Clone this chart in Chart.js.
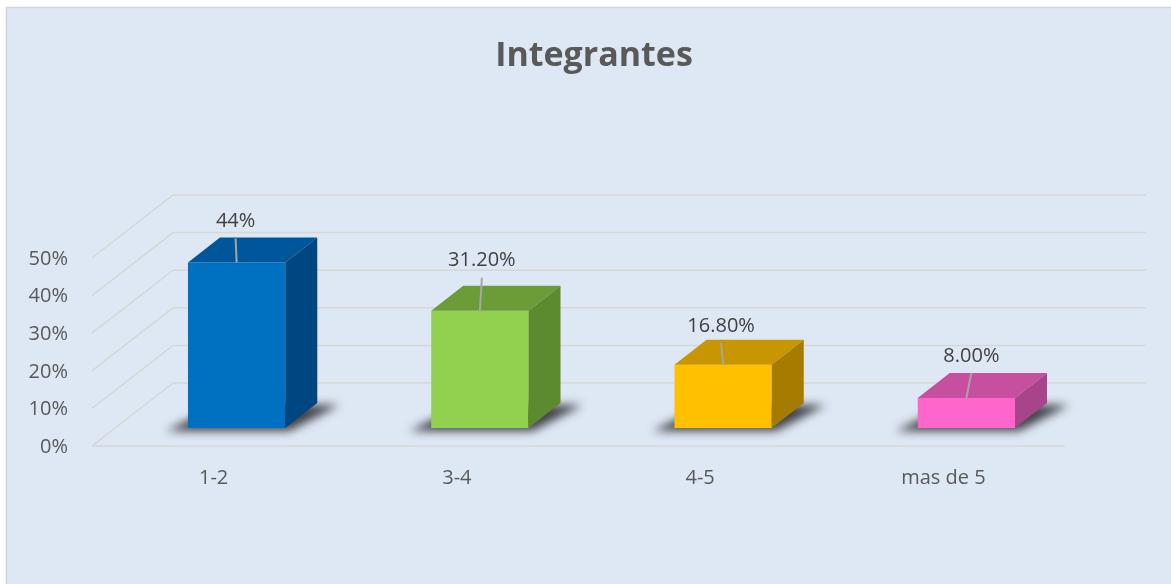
<!DOCTYPE html>
<html>
<head>
<meta charset="utf-8">
<script src="https://cdn.jsdelivr.net/npm/chart.js@4.4.1/dist/chart.umd.min.js"></script>
<style>
  html, body { margin: 0; padding: 0; background: #ffffff; }
  #wrap { position: absolute; left: 0; top: 0; width: 1171px; height: 584px; }
</style>
</head>
<body>
<div id="wrap"><canvas id="c" width="1171" height="584"></canvas></div>
<script>
// ---- data ----
const categories = ['1-2', '3-4', '4-5', 'mas de 5'];
const values = [44, 31.2, 16.8, 8.0];
const valueLabels = ['44%', '31.20%', '16.80%', '8.00%'];
const yTickValues = [0, 10, 20, 30, 40, 50];
const titleText = 'Integrantes';

// ---- styling ----
const frontColors = ['#0070C0', '#92D050', '#FFC000', '#FF66CC'];
const topColors   = ['#00569A', '#6C9C38', '#C89600', '#C64FA0'];
const sideColors  = ['#004680', '#5C8A2E', '#A67C00', '#A8448A'];
const labelNudge  = [[-1, -16], [2, -25], [-2, -14], [5, -17]];
const FONT = '"Open Sans", Lato, sans-serif';
const TEXT = '#595959';
const GRID = '#D6D6D6';
const BACK = [58, -45];   // offset from bar plane to back wall
const FRONT = [-23, 18];  // offset from bar plane to front plane
const SIDE = [32, -25];   // bar depth

const bgPlugin = {
  id: 'bgPlugin',
  beforeDraw(chart) {
    const ctx = chart.ctx;
    ctx.save();
    ctx.fillStyle = '#ffffff';
    ctx.fillRect(0, 0, chart.width, chart.height);
    ctx.fillStyle = '#DEE8F4';
    ctx.fillRect(6, 7, chart.width, chart.height);
    ctx.strokeStyle = '#D4D4D4';
    ctx.lineWidth = 1.5;
    ctx.beginPath();
    ctx.moveTo(6.5, chart.height + 2);
    ctx.lineTo(6.5, 7.5);
    ctx.lineTo(chart.width + 2, 7.5);
    ctx.stroke();
    ctx.restore();
  }
};

const grid3dPlugin = {
  id: 'grid3d',
  beforeDatasetsDraw(chart) {
    const ctx = chart.ctx;
    const y = chart.scales.y;
    const a = chart.chartArea;
    ctx.save();
    ctx.strokeStyle = GRID;
    ctx.lineWidth = 1.5;
    yTickValues.forEach(v => {
      const py = y.getPixelForValue(v);
      ctx.beginPath();
      ctx.moveTo(a.left + FRONT[0], py + FRONT[1]);
      ctx.lineTo(a.left + BACK[0], py + BACK[1]);
      ctx.lineTo(a.right + BACK[0], py + BACK[1]);
      ctx.stroke();
    });
    const p0 = y.getPixelForValue(0);
    ctx.beginPath();
    ctx.moveTo(a.left + FRONT[0], p0 + FRONT[1]);
    ctx.lineTo(a.right + FRONT[0], p0 + FRONT[1]);
    ctx.stroke();

    // shadows
    const meta = chart.getDatasetMeta(0);
    meta.data.forEach(bar => {
      const x0 = bar.x - bar.width / 2, x1 = bar.x + bar.width / 2, b = bar.base;
      ctx.save();
      ctx.filter = 'blur(5px)';
      ctx.fillStyle = 'rgba(35,35,40,0.85)';
      ctx.beginPath();
      ctx.moveTo(x0 - 22, b + 3);
      ctx.lineTo(x1 + 4, b + 3);
      ctx.lineTo(x1 + SIDE[0] + 22, b + SIDE[1] + 2);
      ctx.lineTo(x0 + SIDE[0], b + SIDE[1] + 2);
      ctx.closePath();
      ctx.fill();
      ctx.restore();
    });
    ctx.restore();
  },
  afterDatasetsDraw(chart) {
    const ctx = chart.ctx;
    const meta = chart.getDatasetMeta(0);
    ctx.save();
    meta.data.forEach((bar, i) => {
      const x0 = bar.x - bar.width / 2, x1 = bar.x + bar.width / 2, t = bar.y, b = bar.base;
      // top face
      ctx.fillStyle = topColors[i];
      ctx.beginPath();
      ctx.moveTo(x0, t);
      ctx.lineTo(x1, t);
      ctx.lineTo(x1 + SIDE[0], t + SIDE[1]);
      ctx.lineTo(x0 + SIDE[0], t + SIDE[1]);
      ctx.closePath();
      ctx.fill();
      // side face
      ctx.fillStyle = sideColors[i];
      ctx.beginPath();
      ctx.moveTo(x1, t);
      ctx.lineTo(x1 + SIDE[0], t + SIDE[1]);
      ctx.lineTo(x1 + SIDE[0], b + SIDE[1]);
      ctx.lineTo(x1, b);
      ctx.closePath();
      ctx.fill();

      // data label + leader line
      const backY = t + SIDE[1];
      const lx = bar.x + labelNudge[i][0];
      const ly = backY + labelNudge[i][1];
      ctx.strokeStyle = '#A6A6A6';
      ctx.lineWidth = 2;
      ctx.beginPath();
      ctx.moveTo(lx, ly + 17);
      ctx.lineTo(bar.x, t);
      ctx.stroke();
      ctx.fillStyle = '#404040';
      ctx.font = '20px ' + FONT;
      ctx.textAlign = 'center';
      ctx.textBaseline = 'middle';
      ctx.fillText(valueLabels[i], lx, ly);
    });
    ctx.restore();
  }
};

new Chart(document.getElementById('c'), {
  type: 'bar',
  data: {
    labels: categories,
    datasets: [{
      data: values,
      backgroundColor: frontColors,
      borderWidth: 0,
      barPercentage: 0.4,
      categoryPercentage: 1.0
    }]
  },
  options: {
    responsive: false,
    animation: false,
    events: [],
    layout: { padding: { left: 20, right: 3, top: 0, bottom: 0 } },
    plugins: {
      legend: { display: false },
      tooltip: { enabled: false },
      title: {
        display: true,
        text: titleText,
        color: TEXT,
        font: { family: FONT, size: 34, weight: 'bold', lineHeight: 1.2 },
        padding: { top: 36, bottom: 163.2 }
      }
    },
    scales: {
      x: {
        type: 'category',
        grid: { display: false, drawTicks: false },
        border: { display: false },
        ticks: { color: TEXT, font: { family: FONT, size: 20 }, padding: 38, labelOffset: -23 },
        afterFit(s) { s.height = 156; }
      },
      y: {
        min: 0, max: 50,
        grid: { display: false, drawTicks: false },
        border: { display: false },
        ticks: {
          stepSize: 10,
          color: TEXT,
          font: { family: FONT, size: 20 },
          padding: 47,
          labelOffset: 19,
          callback: v => v + '%'
        },
        afterFit(s) { s.width = 95; }
      },
      y2: {
        position: 'right',
        display: true,
        grid: { display: false, drawTicks: false },
        border: { display: false },
        ticks: { display: false },
        afterFit(s) { s.width = 80; }
      }
    }
  },
  plugins: [bgPlugin, grid3dPlugin]
});
</script>
</body>
</html>
